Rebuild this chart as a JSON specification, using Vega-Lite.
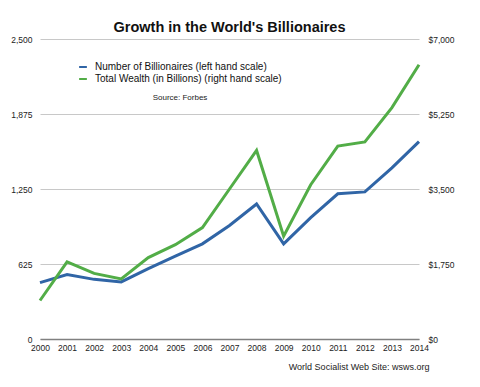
{
  "$schema": "https://vega.github.io/schema/vega-lite/v6.json",
  "width": 379,
  "height": 300,
  "autosize": "none",
  "padding": {"left": 40, "top": 39, "right": 61, "bottom": 48},
  "background": "white",
  "config": {
    "view": {"stroke": null},
    "font": "Liberation Sans",
    "axis": {"labelFont": "Liberation Sans", "labelColor": "#222", "ticks": false, "domain": false, "labelFontSize": 8.5}
  },
  "title": {
    "text": "Growth in the World's Billionaires",
    "fontSize": 14.5,
    "fontWeight": "bold",
    "font": "Liberation Sans",
    "color": "#111",
    "anchor": "middle",
    "offset": 0
  },
  "data": {
    "values": [
      {"year": 2000, "series": "Number of Billionaires (left hand scale)", "value": 470},
      {"year": 2001, "series": "Number of Billionaires (left hand scale)", "value": 538},
      {"year": 2002, "series": "Number of Billionaires (left hand scale)", "value": 497},
      {"year": 2003, "series": "Number of Billionaires (left hand scale)", "value": 476},
      {"year": 2004, "series": "Number of Billionaires (left hand scale)", "value": 587},
      {"year": 2005, "series": "Number of Billionaires (left hand scale)", "value": 691},
      {"year": 2006, "series": "Number of Billionaires (left hand scale)", "value": 793},
      {"year": 2007, "series": "Number of Billionaires (left hand scale)", "value": 946},
      {"year": 2008, "series": "Number of Billionaires (left hand scale)", "value": 1125},
      {"year": 2009, "series": "Number of Billionaires (left hand scale)", "value": 793},
      {"year": 2010, "series": "Number of Billionaires (left hand scale)", "value": 1011},
      {"year": 2011, "series": "Number of Billionaires (left hand scale)", "value": 1210},
      {"year": 2012, "series": "Number of Billionaires (left hand scale)", "value": 1226},
      {"year": 2013, "series": "Number of Billionaires (left hand scale)", "value": 1426},
      {"year": 2014, "series": "Number of Billionaires (left hand scale)", "value": 1645},
      {"year": 2000, "series": "Total Wealth (in Billions) (right hand scale)", "value": 898},
      {"year": 2001, "series": "Total Wealth (in Billions) (right hand scale)", "value": 1800},
      {"year": 2002, "series": "Total Wealth (in Billions) (right hand scale)", "value": 1530},
      {"year": 2003, "series": "Total Wealth (in Billions) (right hand scale)", "value": 1400},
      {"year": 2004, "series": "Total Wealth (in Billions) (right hand scale)", "value": 1900},
      {"year": 2005, "series": "Total Wealth (in Billions) (right hand scale)", "value": 2200},
      {"year": 2006, "series": "Total Wealth (in Billions) (right hand scale)", "value": 2600},
      {"year": 2007, "series": "Total Wealth (in Billions) (right hand scale)", "value": 3500},
      {"year": 2008, "series": "Total Wealth (in Billions) (right hand scale)", "value": 4400},
      {"year": 2009, "series": "Total Wealth (in Billions) (right hand scale)", "value": 2400},
      {"year": 2010, "series": "Total Wealth (in Billions) (right hand scale)", "value": 3600},
      {"year": 2011, "series": "Total Wealth (in Billions) (right hand scale)", "value": 4500},
      {"year": 2012, "series": "Total Wealth (in Billions) (right hand scale)", "value": 4600},
      {"year": 2013, "series": "Total Wealth (in Billions) (right hand scale)", "value": 5400},
      {"year": 2014, "series": "Total Wealth (in Billions) (right hand scale)", "value": 6400}
    ]
  },
  "encoding": {
    "x": {
      "field": "year",
      "type": "quantitative",
      "scale": {"domain": [2000, 2014], "nice": false, "zero": false},
      "axis": {
        "values": [2000, 2001, 2002, 2003, 2004, 2005, 2006, 2007, 2008, 2009, 2010, 2011, 2012, 2013, 2014],
        "format": "d",
        "labelOverlap": false,
        "labelBound": false,
        "labelFlush": false,
        "grid": false,
        "domain": true,
        "domainColor": "#808080",
        "domainWidth": 1.5,
        "labelPadding": 4,
        "labelFontSize": 8.5,
        "title": "World Socialist Web Site: wsws.org",
        "titleFont": "Liberation Sans",
        "titleFontSize": 9,
        "titleFontWeight": "normal",
        "titleColor": "#222",
        "titleAnchor": "end",
        "titleAlign": "right",
        "titleX": 389,
        "titlePadding": 11
      }
    },
    "color": {
      "field": "series",
      "type": "nominal",
      "scale": {
        "domain": ["Number of Billionaires (left hand scale)", "Total Wealth (in Billions) (right hand scale)"],
        "range": ["#3065a6", "#52ad47"]
      },
      "legend": {
        "orient": "none",
        "legendX": 38,
        "legendY": 23,
        "title": "Source: Forbes",
        "titleOrient": "bottom",
        "titleAnchor": "middle",
        "titleFontSize": 8,
        "titleFontWeight": "normal",
        "titleColor": "#222",
        "titlePadding": 10,
        "symbolType": "stroke",
        "symbolStrokeWidth": 2,
        "symbolSize": 60,
        "labelFontSize": 10,
        "labelColor": "#111",
        "labelOffset": 7,
        "rowPadding": 2,
        "labelLimit": 300
      }
    }
  },
  "layer": [
    {
      "transform": [{"filter": "datum.series === 'Number of Billionaires (left hand scale)'"}],
      "mark": {"type": "line", "strokeWidth": 3},
      "encoding": {
        "y": {
          "field": "value",
          "type": "quantitative",
          "scale": {"domain": [0, 2500], "nice": false},
          "axis": {
            "orient": "left",
            "values": [0, 625, 1250, 1875, 2500],
            "format": ",d",
            "title": null,
            "grid": true,
            "gridColor": "#c8c8c8",
            "gridWidth": 1,
            "labelPadding": 8
          }
        }
      }
    },
    {
      "transform": [{"filter": "datum.series === 'Total Wealth (in Billions) (right hand scale)'"}],
      "mark": {"type": "line", "strokeWidth": 3},
      "encoding": {
        "y": {
          "field": "value",
          "type": "quantitative",
          "scale": {"domain": [0, 7000], "nice": false},
          "axis": {
            "orient": "right",
            "values": [0, 1750, 3500, 5250, 7000],
            "format": "$,d",
            "title": null,
            "grid": false,
            "labelPadding": 9
          }
        }
      }
    }
  ],
  "resolve": {"scale": {"y": "independent"}}
}
